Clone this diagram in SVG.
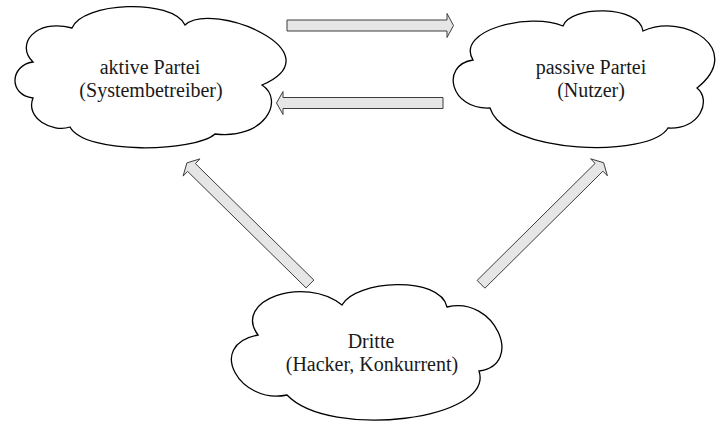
<svg xmlns="http://www.w3.org/2000/svg" width="720" height="423" viewBox="0 0 720 423">
<style>
.cloud{fill:#ffffff;stroke:#000000;stroke-width:1.3;stroke-linejoin:miter}
.lbl{font-size:20px;fill:#1a1a1a;text-anchor:middle}
.arr{fill:#e6e6e6;stroke:#3c3c3c;stroke-width:1;stroke-linejoin:miter}
</style>
<rect width="720" height="423" fill="#ffffff"/>
<g id="aktive" font-family="Liberation Serif, Times New Roman, Times, Tinos, Nimbus Roman, FreeSerif, DejaVu Serif, serif">
<path class="cloud" d="M33,62 C15,45 35,18 72,28 C82,2 172,-2 185,25 C212,0 338,52 262,85 C285,100 265,140 215,134 C195,152 85,155 70,127 C52,133 25,118 33,98 C8,95 10,65 33,62 Z"/>
<text class="lbl" x="150" y="74">aktive Partei</text>
<text class="lbl" x="151" y="97">(Systembetreiber)</text>
</g>
<g id="passive" font-family="Liberation Serif, Times New Roman, Times, Tinos, Nimbus Roman, FreeSerif, DejaVu Serif, serif">
<path class="cloud" d="M473,60 C455,30 530,12 563,26 C570,5 640,5 643,31 C685,12 745,50 697,88 C712,100 700,130 668,128 C650,158 505,155 490,108 C450,110 440,65 473,60 Z"/>
<text class="lbl" x="591" y="74">passive Partei</text>
<text class="lbl" x="591" y="97">(Nutzer)</text>
</g>
<g id="dritte" font-family="Liberation Serif, Times New Roman, Times, Tinos, Nimbus Roman, FreeSerif, DejaVu Serif, serif">
<path class="cloud" d="M258,335 C232,300 305,275 342,305 C355,280 440,275 447,307 C495,295 525,365 479,371 C495,420 330,440 287,395 C240,405 205,345 258,335 Z"/>
<text class="lbl" x="371" y="347.5">Dritte</text>
<text class="lbl" x="372" y="370.5">(Hacker, Konkurrent)</text>
</g>
<g id="connectors">
<polygon class="arr" points="287,20 447,20 447,13.5 453.5,25.5 447,37.5 447,31 287,31"/>
<polygon class="arr" points="443,97.5 283,97.5 283,91.5 276.5,103 283,114.5 283,108.5 443,108.5"/>
<polygon class="arr" points="313.9,280.1 195.4,163.6 199.9,158.9 186.9,162.9 183.1,176.1 187.6,171.4 306.1,287.9"/>
<polygon class="arr" points="477.1,280.4 595.1,163.4 590.6,158.8 603.6,162.7 607.4,175.8 602.9,171.2 484.9,288.2"/>
</g>
</svg>
